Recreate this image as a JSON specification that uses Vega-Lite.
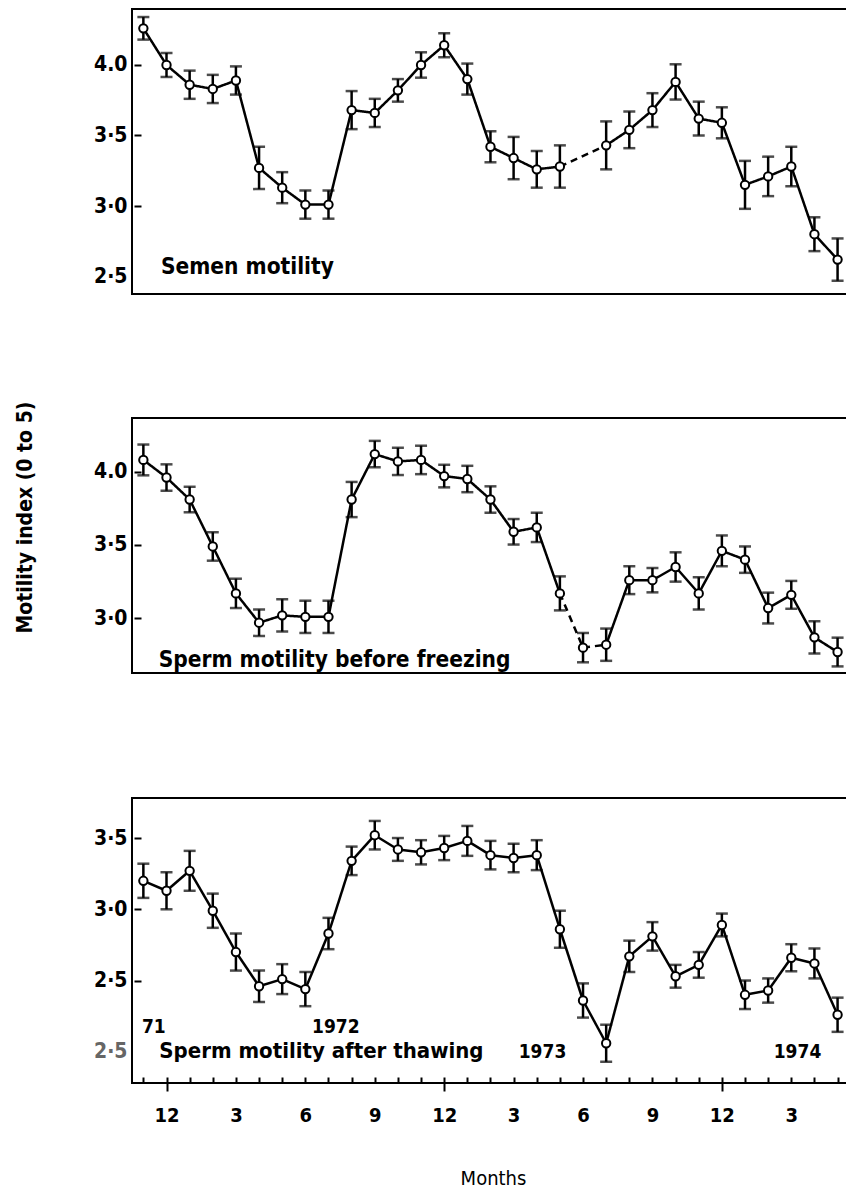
{
  "$schema": "https://vega.github.io/schema/vega-lite/v6.json",
  "background": "white",
  "autosize": {"type": "pad"},
  "padding": {"left": 12, "top": 8, "right": 0, "bottom": 0},
  "config": {
    "font": "DejaVu Sans Condensed, DejaVu Sans",
    "view": {"stroke": "black", "strokeWidth": 2},
    "axis": {
      "domain": false,
      "grid": false,
      "labelColor": "black",
      "labelFontSize": 21,
      "labelFontWeight": "bold",
      "tickColor": "black",
      "tickWidth": 2,
      "titleColor": "black"
    }
  },
  "datasets": {
    "semen": [
      {"m": -1, "v": 4.26, "e": 0.08},
      {"m": 0, "v": 4.0, "e": 0.085},
      {"m": 1, "v": 3.86, "e": 0.1},
      {"m": 2, "v": 3.83, "e": 0.1},
      {"m": 3, "v": 3.89, "e": 0.1},
      {"m": 4, "v": 3.27, "e": 0.15},
      {"m": 5, "v": 3.13, "e": 0.11},
      {"m": 6, "v": 3.01, "e": 0.1},
      {"m": 7, "v": 3.01, "e": 0.1},
      {"m": 8, "v": 3.68, "e": 0.135},
      {"m": 9, "v": 3.66, "e": 0.1},
      {"m": 10, "v": 3.82, "e": 0.08},
      {"m": 11, "v": 4.0, "e": 0.09},
      {"m": 12, "v": 4.14, "e": 0.085},
      {"m": 13, "v": 3.9, "e": 0.11},
      {"m": 14, "v": 3.42, "e": 0.11},
      {"m": 15, "v": 3.34, "e": 0.15},
      {"m": 16, "v": 3.26, "e": 0.13},
      {"m": 17, "v": 3.28, "e": 0.15, "link": "dashed"},
      {"m": 19, "v": 3.43, "e": 0.17},
      {"m": 20, "v": 3.54, "e": 0.13},
      {"m": 21, "v": 3.68, "e": 0.12},
      {"m": 22, "v": 3.88, "e": 0.125},
      {"m": 23, "v": 3.62, "e": 0.12},
      {"m": 24, "v": 3.59, "e": 0.11},
      {"m": 25, "v": 3.15, "e": 0.17},
      {"m": 26, "v": 3.21, "e": 0.14},
      {"m": 27, "v": 3.28, "e": 0.14},
      {"m": 28, "v": 2.8, "e": 0.12},
      {"m": 29, "v": 2.62, "e": 0.15}
    ],
    "before": [
      {"m": -1, "v": 4.08, "e": 0.105},
      {"m": 0, "v": 3.96, "e": 0.09},
      {"m": 1, "v": 3.81, "e": 0.087},
      {"m": 2, "v": 3.49, "e": 0.097},
      {"m": 3, "v": 3.17, "e": 0.1},
      {"m": 4, "v": 2.97, "e": 0.09},
      {"m": 5, "v": 3.02, "e": 0.11},
      {"m": 6, "v": 3.01, "e": 0.11},
      {"m": 7, "v": 3.01, "e": 0.11},
      {"m": 8, "v": 3.81, "e": 0.12},
      {"m": 9, "v": 4.12, "e": 0.09},
      {"m": 10, "v": 4.07, "e": 0.093},
      {"m": 11, "v": 4.08, "e": 0.097},
      {"m": 12, "v": 3.97, "e": 0.077},
      {"m": 13, "v": 3.95, "e": 0.09},
      {"m": 14, "v": 3.81, "e": 0.09},
      {"m": 15, "v": 3.59, "e": 0.087},
      {"m": 16, "v": 3.62, "e": 0.1},
      {"m": 17, "v": 3.17, "e": 0.116, "link": "dashed"},
      {"m": 18, "v": 2.8, "e": 0.1, "link": "dashed"},
      {"m": 19, "v": 2.82, "e": 0.11},
      {"m": 20, "v": 3.26, "e": 0.095},
      {"m": 21, "v": 3.26, "e": 0.083},
      {"m": 22, "v": 3.35, "e": 0.1},
      {"m": 23, "v": 3.17, "e": 0.11},
      {"m": 24, "v": 3.46, "e": 0.105},
      {"m": 25, "v": 3.4, "e": 0.09},
      {"m": 26, "v": 3.07, "e": 0.105},
      {"m": 27, "v": 3.16, "e": 0.095},
      {"m": 28, "v": 2.87, "e": 0.11},
      {"m": 29, "v": 2.77, "e": 0.098}
    ],
    "after": [
      {"m": -1, "v": 3.2, "e": 0.12},
      {"m": 0, "v": 3.13, "e": 0.13},
      {"m": 1, "v": 3.27, "e": 0.14},
      {"m": 2, "v": 2.99, "e": 0.12},
      {"m": 3, "v": 2.7, "e": 0.13},
      {"m": 4, "v": 2.46, "e": 0.11},
      {"m": 5, "v": 2.51, "e": 0.105},
      {"m": 6, "v": 2.44, "e": 0.12},
      {"m": 7, "v": 2.83, "e": 0.11},
      {"m": 8, "v": 3.34, "e": 0.1},
      {"m": 9, "v": 3.52, "e": 0.1},
      {"m": 10, "v": 3.42, "e": 0.08},
      {"m": 11, "v": 3.4, "e": 0.085},
      {"m": 12, "v": 3.43, "e": 0.085},
      {"m": 13, "v": 3.48, "e": 0.105},
      {"m": 14, "v": 3.38, "e": 0.1},
      {"m": 15, "v": 3.36, "e": 0.1},
      {"m": 16, "v": 3.38, "e": 0.105},
      {"m": 17, "v": 2.86, "e": 0.13},
      {"m": 18, "v": 2.36, "e": 0.12},
      {"m": 19, "v": 2.06, "e": 0.13},
      {"m": 20, "v": 2.67, "e": 0.11},
      {"m": 21, "v": 2.81, "e": 0.1},
      {"m": 22, "v": 2.53, "e": 0.08},
      {"m": 23, "v": 2.61, "e": 0.09},
      {"m": 24, "v": 2.89, "e": 0.08},
      {"m": 25, "v": 2.4, "e": 0.1},
      {"m": 26, "v": 2.43, "e": 0.085},
      {"m": 27, "v": 2.66, "e": 0.095},
      {"m": 28, "v": 2.62, "e": 0.105},
      {"m": 29, "v": 2.26, "e": 0.12}
    ]
  },
  "spacing": 105,
  "vconcat": [
    {
      "width": 722,
      "height": 285,
      "encoding": {
        "x": {"field": "m", "type": "quantitative", "scale": {"domain": [-1.491, 29.71], "nice": false, "zero": false}, "axis": null},
        "y": {
          "field": "v", "type": "quantitative",
          "scale": {"domain": [2.376, 4.397], "nice": false, "zero": false},
          "axis": {
            "title": null,
            "values": [2.5, 3, 3.5, 4],
            "offset": -9,
            "tickSize": 7,
            "labelPadding": 7,
            "labelExpr": "datum.value === 4 ? '4.0' : replace(format(datum.value, '.1f'), '.', '·')",
            "tickOpacity": {"condition": {"test": "datum.value < 2.9", "value": 0}, "value": 1}
          }
        }
      },
      "layer": [
        {
          "data": {"name": "semen"},
          "transform": [
            {"window": [{"op": "lead", "field": "m", "as": "m2"}, {"op": "lead", "field": "v", "as": "v2"}], "sort": [{"field": "m", "order": "ascending"}]},
            {"filter": "datum.m2 != null"}
          ],
          "mark": {"type": "rule", "color": "black", "strokeWidth": 2.5},
          "encoding": {
            "x2": {"field": "m2"},
            "y2": {"field": "v2"},
            "strokeDash": {"condition": {"test": "datum.link === 'dashed'", "value": [7, 5]}, "value": [1, 0]}
          }
        },
        {
          "data": {"name": "semen"},
          "mark": {"type": "errorbar", "color": "black", "thickness": 2.5, "ticks": {"size": 12}},
          "encoding": {"yError": {"field": "e"}}
        },
        {
          "data": {"name": "semen"},
          "mark": {"type": "point", "shape": "circle", "filled": true, "fill": "white", "stroke": "black", "strokeWidth": 2, "size": 70, "opacity": 1}
        },
        {
          "data": {"values": [{"m": -0.24, "v": 2.52, "label": "Semen motility"}]},
          "mark": {"type": "text", "align": "left", "baseline": "alphabetic", "fontSize": 22.5, "fontWeight": "bold", "color": "black"},
          "encoding": {"text": {"field": "label"}}
        }
      ]
    },
    {
      "spacing": 123,
      "vconcat": [
        {
          "width": 722,
          "height": 255,
          "encoding": {
            "x": {"field": "m", "type": "quantitative", "scale": {"domain": [-1.491, 29.71], "nice": false, "zero": false}, "axis": null},
            "y": {
              "field": "v", "type": "quantitative",
              "scale": {"domain": [2.627, 4.366], "nice": false, "zero": false},
              "axis": {
                "title": "Motility index (0 to 5)",
                "titleFontSize": 21,
                "titleFontWeight": "bold",
                "titleX": -106,
                "titleY": 99,
                "values": [3, 3.5, 4],
                "offset": -9,
                "tickSize": 7,
                "labelPadding": 7,
                "labelExpr": "datum.value === 4 ? '4.0' : replace(format(datum.value, '.1f'), '.', '·')"
              }
            }
          },
          "layer": [
            {
              "data": {"name": "before"},
              "transform": [
                {"window": [{"op": "lead", "field": "m", "as": "m2"}, {"op": "lead", "field": "v", "as": "v2"}], "sort": [{"field": "m", "order": "ascending"}]},
                {"filter": "datum.m2 != null"}
              ],
              "mark": {"type": "rule", "color": "black", "strokeWidth": 2.5},
              "encoding": {
                "x2": {"field": "m2"},
                "y2": {"field": "v2"},
                "strokeDash": {"condition": {"test": "datum.link === 'dashed'", "value": [7, 5]}, "value": [1, 0]}
              }
            },
            {
              "data": {"name": "before"},
              "mark": {"type": "errorbar", "color": "black", "thickness": 2.5, "ticks": {"size": 12}},
              "encoding": {"yError": {"field": "e"}}
            },
            {
              "data": {"name": "before"},
              "mark": {"type": "point", "shape": "circle", "filled": true, "fill": "white", "stroke": "black", "strokeWidth": 2, "size": 70, "opacity": 1}
            },
            {
              "data": {"values": [{"m": -0.34, "v": 2.67, "label": "Sperm motility before freezing"}]},
              "mark": {"type": "text", "align": "left", "baseline": "alphabetic", "fontSize": 22.5, "fontWeight": "bold", "color": "black"},
              "encoding": {"text": {"field": "label"}}
            }
          ]
        },
        {
          "width": 722,
          "height": 285,
          "resolve": {"axis": {"x": "independent"}},
          "layer": [
            {
              "encoding": {
                "x": {
                  "field": "m", "type": "quantitative",
                  "scale": {"domain": [-1.491, 29.71], "nice": false, "zero": false},
                  "axis": {
                    "orient": "bottom",
                    "values": [-1, 0, 1, 2, 3, 4, 5, 6, 7, 8, 9, 10, 11, 12, 13, 14, 15, 16, 17, 18, 19, 20, 21, 22, 23, 24, 25, 26, 27, 28, 29],
                    "offset": -6,
                    "tickSize": 6,
                    "labelFontSize": 20,
                    "labelPadding": 22,
                    "labelOverlap": false,
                    "labelFlush": false,
                    "labelExpr": "datum.value % 3 === 0 ? '' + ((datum.value + 12) % 12 === 0 ? 12 : (datum.value + 12) % 12) : ''",
                    "title": "Months",
                    "titleFontSize": 20,
                    "titleFontWeight": "normal",
                    "titleBaseline": "top",
                    "titleY": 91
                  }
                },
                "y": {
                  "field": "v", "type": "quantitative",
                  "scale": {"domain": [1.781, 3.781], "nice": false, "zero": false},
                  "axis": {
                    "title": null,
                    "values": [2, 2.5, 3, 3.5],
                    "offset": -9,
                    "tickSize": 7,
                    "labelPadding": 7,
                    "labelExpr": "datum.value === 2 ? '2·5' : replace(format(datum.value, '.1f'), '.', '·')",
                    "labelColor": {"condition": {"test": "datum.value < 2.2", "value": "#666666"}, "value": "black"},
                    "tickOpacity": {"condition": {"test": "datum.value < 2.2", "value": 0}, "value": 1}
                  }
                }
              },
              "layer": [
                {
                  "data": {"name": "after"},
                  "transform": [
                    {"window": [{"op": "lead", "field": "m", "as": "m2"}, {"op": "lead", "field": "v", "as": "v2"}], "sort": [{"field": "m", "order": "ascending"}]},
                    {"filter": "datum.m2 != null"}
                  ],
                  "mark": {"type": "rule", "color": "black", "strokeWidth": 2.5},
                  "encoding": {"x2": {"field": "m2"}, "y2": {"field": "v2"}}
                },
                {
                  "data": {"name": "after"},
                  "mark": {"type": "errorbar", "color": "black", "thickness": 2.5, "ticks": {"size": 12}},
                  "encoding": {"yError": {"field": "e"}}
                },
                {
                  "data": {"name": "after"},
                  "mark": {"type": "point", "shape": "circle", "filled": true, "fill": "white", "stroke": "black", "strokeWidth": 2, "size": 70, "opacity": 1}
                },
                {
                  "data": {"values": [
                    {"m": -0.31, "v": 1.955, "label": "Sperm motility after thawing", "size": 22},
                    {"m": -1.06, "v": 2.13, "label": "71", "size": 19},
                    {"m": 6.29, "v": 2.13, "label": "1972", "size": 19},
                    {"m": 15.22, "v": 1.955, "label": "1973", "size": 19},
                    {"m": 26.24, "v": 1.955, "label": "1974", "size": 19}
                  ]},
                  "mark": {"type": "text", "align": "left", "baseline": "alphabetic", "fontWeight": "bold", "color": "black"},
                  "encoding": {
                    "text": {"field": "label"},
                    "size": {"field": "size", "type": "quantitative", "scale": null}
                  }
                }
              ]
            },
            {
              "data": {"name": "after"},
              "mark": {"type": "point", "opacity": 0},
              "encoding": {
                "x": {
                  "field": "m", "type": "quantitative",
                  "scale": {"domain": [-1.491, 29.71], "nice": false, "zero": false},
                  "axis": {"orient": "bottom", "values": [0, 12, 24], "tickSize": 8, "labels": false, "title": null}
                }
              }
            }
          ]
        }
      ]
    }
  ]
}
